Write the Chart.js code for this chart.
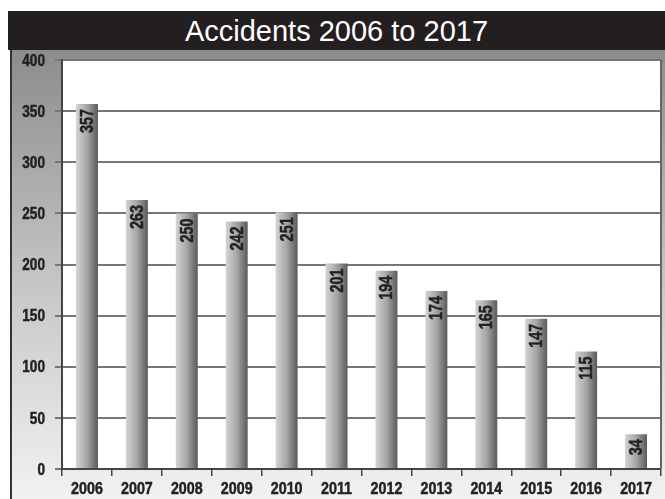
<!DOCTYPE html>
<html>
<head>
<meta charset="utf-8">
<script src="https://cdn.jsdelivr.net/npm/chart.js@4"></script>
<style>
    html, body { margin: 0; padding: 0; background: #fff; }
    body { width: 665px; height: 499px; position: relative; overflow: hidden; }
    .title-bar {
        position: absolute; left: 8px; top: 11px; width: 657px; height: 39px;
        background: #231f20; color: #fff; text-align: center;
        font: 29px 'Liberation Sans', Arial, sans-serif; line-height: 40px;
    }
    .left-border { position: absolute; left: 10px; top: 50px; width: 2px; height: 449px; background: #333; }
    #chart {
        position: absolute; left: 12px; top: 50px;
        background: linear-gradient(to bottom, #8c8c8c 0%, #c9c9c9 55%, #f2f2f2 100%);
    }
</style>
</head>
<body>
<div class="title-bar">Accidents 2006 to 2017</div>
<div class="left-border"></div>
<canvas id="chart" width="653" height="449"></canvas>
<script>
const YEARS = ['2006', '2007', '2008', '2009', '2010', '2011', '2012', '2013', '2014', '2015', '2016', '2017'];
const ACCIDENTS = [357, 263, 250, 242, 251, 201, 194, 174, 165, 147, 115, 34];
const Y_TICKS = [0, 50, 100, 150, 200, 250, 300, 350, 400];

const FONT = "'Liberation Sans', Arial, sans-serif";

// no condensed face installed, so narrow the bold sans by hand
function condensedText(ctx, text, x, y, align, baseline, size, squeeze, angle) {
    ctx.save();
    ctx.translate(x, y);
    if (angle) ctx.rotate(angle);
    ctx.scale(squeeze, 1);
    ctx.font = 'bold ' + size + 'px ' + FONT;
    ctx.fillStyle = '#222';
    ctx.strokeStyle = '#222';
    ctx.lineWidth = 0.5;
    ctx.textAlign = align;
    ctx.textBaseline = baseline;
    ctx.fillText(text, 0, 0);
    ctx.strokeText(text, 0, 0);
    ctx.restore();
}

// white plot area plus the right border line
const plotFrame = {
    id: 'plotFrame',
    beforeDraw(chart) {
        const { ctx, chartArea: a } = chart;
        ctx.save();
        ctx.fillStyle = '#fff';
        ctx.fillRect(a.left, a.top, a.right - a.left, a.bottom - a.top);
        ctx.restore();
    },
    afterDraw(chart) {
        const { ctx, chartArea: a } = chart;
        ctx.save();
        ctx.strokeStyle = '#666';
        ctx.lineWidth = 2;
        ctx.beginPath();
        ctx.moveTo(a.right, a.top);
        ctx.lineTo(a.right, a.bottom);
        ctx.stroke();
        ctx.restore();
    }
};

// tick labels, placed from the scales
const axisLabels = {
    id: 'axisLabels',
    afterDraw(chart) {
        const { ctx } = chart;
        const xs = chart.scales.x;
        const ys = chart.scales.y;
        ys.ticks.forEach(t => {
            condensedText(ctx, String(t.value), ys.right - 17, ys.getPixelForValue(t.value) + 1, 'right', 'middle', 17, 0.8);
        });
        YEARS.forEach((label, i) => {
            condensedText(ctx, label, xs.getPixelForValue(i), xs.top + 12, 'center', 'top', 17, 0.84);
        });
    }
};

// rotated value labels inside each bar, near the top
const barLabels = {
    id: 'barLabels',
    afterDatasetsDraw(chart) {
        const meta = chart.getDatasetMeta(0);
        meta.data.forEach((bar, i) => {
            condensedText(chart.ctx, String(ACCIDENTS[i]), bar.x + 1, bar.y + 5, 'right', 'middle', 18, 0.8, -Math.PI / 2);
        });
    }
};

function barGradient(context) {
    const chart = context.chart;
    const xs = chart.scales.x;
    if (!xs || context.type !== 'data' || !xs.width) return '#a0a0a0';
    const cx = xs.getPixelForValue(context.dataIndex);
    const half = xs.width / YEARS.length * 0.44 / 2;
    const g = chart.ctx.createLinearGradient(cx - half, 0, cx + half, 0);
    g.addColorStop(0, '#d4d4d4');
    g.addColorStop(0.5, '#a6a6a6');
    g.addColorStop(1, '#5a5a5a');
    return g;
}

new Chart(document.getElementById('chart'), {
    type: 'bar',
    data: {
        labels: YEARS,
        datasets: [{
            data: ACCIDENTS,
            backgroundColor: barGradient,
            borderWidth: 0,
            barPercentage: 0.44,
            categoryPercentage: 1
        }]
    },
    options: {
        responsive: false,
        animation: false,
        devicePixelRatio: 1,
        layout: { padding: { left: 0, right: 4, top: 10, bottom: 0 } },
        plugins: { legend: { display: false }, tooltip: { enabled: false } },
        scales: {
            x: {
                offset: true,
                afterFit(scale) { scale.height = 30; },
                grid: { drawOnChartArea: false, drawTicks: true, tickLength: 7, color: '#444', lineWidth: 1.5, offset: true },
                border: { color: '#444', width: 2 },
                ticks: { display: false }
            },
            y: {
                min: 0,
                max: 400,
                afterFit(scale) { scale.width = 50; },
                afterBuildTicks(scale) { scale.ticks = Y_TICKS.map(v => ({ value: v })); },
                grid: { color: '#777', lineWidth: 2, tickLength: 7 },
                border: { color: '#444', width: 2 },
                ticks: { display: false }
            }
        }
    },
    plugins: [plotFrame, axisLabels, barLabels]
});
</script>
</body>
</html>
